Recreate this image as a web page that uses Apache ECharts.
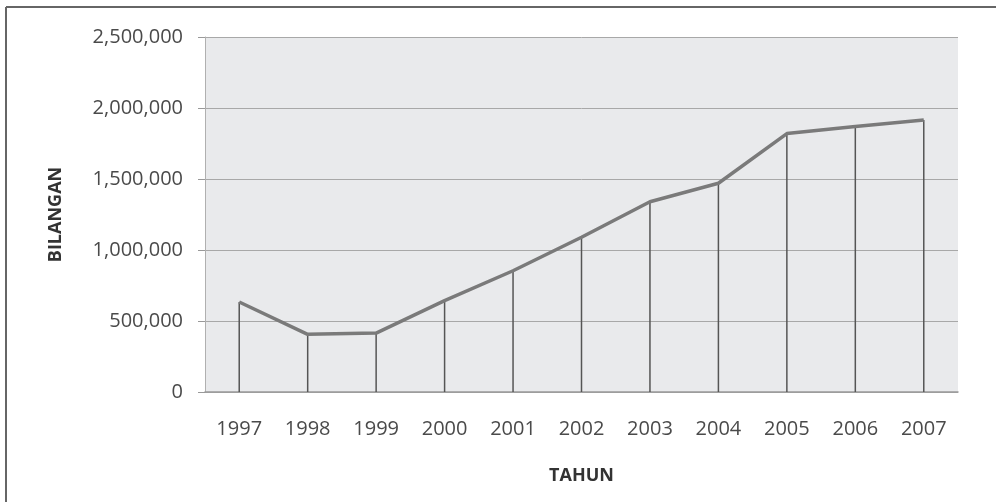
<!DOCTYPE html>
<html>
<head>
<meta charset="utf-8">
<script src="https://cdn.jsdelivr.net/npm/echarts@6/dist/echarts.min.js"></script>
<style>html,body{margin:0;padding:0;background:#fff}#c{width:996px;height:502px}</style>
</head>
<body>
<div id="c"></div>
<script>
var years = ['1997','1998','1999','2000','2001','2002','2003','2004','2005','2006','2007'];
var values = [634000, 406000, 415000, 643000, 854000, 1090000, 1340000, 1470000, 1820000, 1870000, 1915000];
var yTicks = [0, 500000, 1000000, 1500000, 2000000, 2500000];
var xName = 'TAHUN';
var yName = 'BILANGAN';

var chart = echarts.init(document.getElementById('c'), null, {renderer: 'canvas'});
var font = '"Open Sans", sans-serif';
chart.setOption({
  animation: false,
  backgroundColor: '#fff',
  graphic: [
    {type: 'line', shape: {x1: 6, y1: 7, x2: 996, y2: 7}, style: {stroke: '#666', lineWidth: 2}},
    {type: 'line', shape: {x1: 6, y1: 7, x2: 6, y2: 502}, style: {stroke: '#666', lineWidth: 2}}
  ],
  grid: {left: 205, right: 38, top: 37, bottom: 110, show: true, backgroundColor: '#e9eaec', borderWidth: 0},
  xAxis: {
    type: 'category',
    data: years,
    boundaryGap: true,
    name: xName,
    nameLocation: 'middle',
    nameGap: 75,
    nameTextStyle: {fontFamily: font, fontWeight: 'bold', fontSize: 18, color: '#333'},
    axisLine: {lineStyle: {color: '#999', width: 1.5}},
    axisTick: {show: false},
    axisLabel: {fontFamily: font, fontSize: 20, color: '#4a4a4a', margin: 27}
  },
  yAxis: {
    type: 'value',
    min: yTicks[0],
    max: yTicks[yTicks.length - 1],
    interval: 500000,
    name: yName,
    nameLocation: 'middle',
    nameGap: 140,
    nameTextStyle: {fontFamily: font, fontWeight: 'bold', fontSize: 18, color: '#333'},
    axisLine: {show: true, lineStyle: {color: '#b0b0b0', width: 1}},
    axisTick: {show: true, length: 7, lineStyle: {color: '#999'}},
    splitLine: {lineStyle: {color: '#a8a8a8', width: 1}},
    axisLabel: {
      fontFamily: font, fontSize: 20, color: '#4a4a4a', margin: 22,
      formatter: function (v) { return v.toLocaleString('en-US'); }
    }
  },
  series: [
    {
      type: 'bar',
      data: values,
      barWidth: 1.5,
      itemStyle: {color: '#555'},
      z: 2
    },
    {
      type: 'line',
      data: values,
      symbol: 'none',
      lineStyle: {color: '#7a7a7a', width: 3.5},
      z: 3
    }
  ]
});
</script>
</body>
</html>
